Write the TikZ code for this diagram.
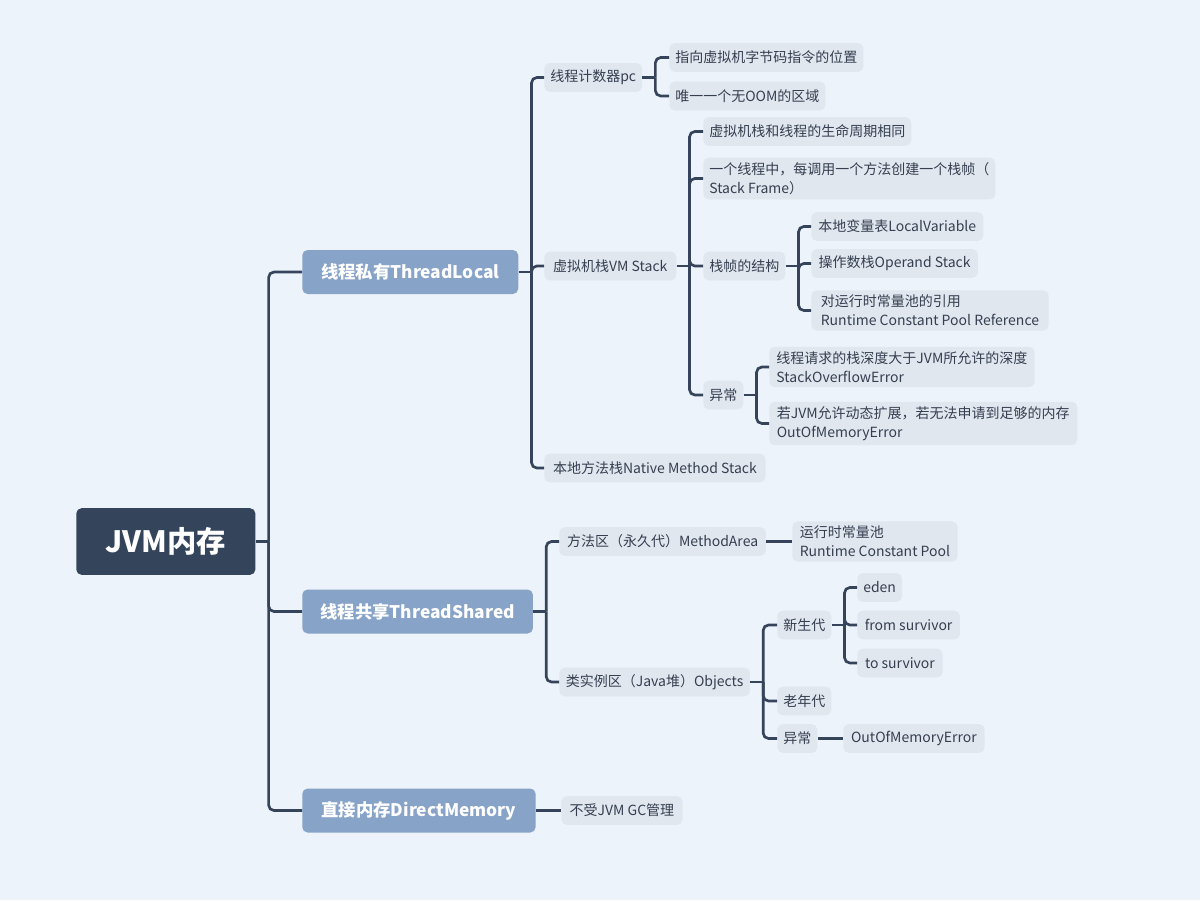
\documentclass[tikz,border=0pt]{standalone}
\usepackage{fontspec}
\setmainfont{Noto Sans CJK SC}
\usetikzlibrary{calc}
\definecolor{bgc}{HTML}{EDF3FA}
\definecolor{rootc}{HTML}{34445B}
\definecolor{mainc}{HTML}{87A3C8}
\definecolor{leafc}{HTML}{E1E7EF}
\definecolor{linec}{HTML}{35445A}
\definecolor{textc}{HTML}{353F50}
\tikzset{
  root/.style={fill=rootc, text=white, rounded corners=4pt, anchor=west,
    font=\fontsize{22}{26}\selectfont\bfseries, minimum height=50pt, inner xsep=22pt},
  topic/.style={fill=mainc, text=white, rounded corners=4pt, anchor=west,
    font=\fontsize{13}{16}\selectfont\bfseries, minimum height=33pt, inner xsep=13pt},
  leaf/.style={fill=leafc, text=textc, rounded corners=4pt, anchor=west, align=left,
    font=\fontsize{10.5}{14.2}\selectfont, minimum height=21.5pt, inner xsep=4.5pt, inner ysep=3.5pt},
  link/.style={draw=linec, line width=2pt, rounded corners=4pt},
}
\begin{document}
\begin{tikzpicture}[x=0.75pt,y=-0.75pt]
\fill[bgc] (0,0) rectangle (1200,900);
% 中心主题
\node[root,minimum width=132pt] (jvm) at (76,541.5) {JVM内存};
% 分支主题
\node[topic,minimum width=162pt] (tl) at (302,272) {线程私有ThreadLocal};
\node[topic,minimum width=173pt] (ts) at (302,611.5) {线程共享ThreadShared};
\node[topic,minimum width=175pt] (dm) at (302,810.5) {直接内存DirectMemory};
% 线程私有
\node[leaf] (pc) at (544,77.5) {线程计数器pc};
\node[leaf] (p1) at (669,57.5) {指向虚拟机字节码指令的位置};
\node[leaf] (p2) at (669,96) {唯一一个无OOM的区域};
\node[leaf,minimum width=99pt] (vm) at (544,266) {虚拟机栈VM Stack};
\node[leaf] (v1) at (703,131.5) {虚拟机栈和线程的生命周期相同};
\node[leaf] (v2) at (703,178.5) {一个线程中，每调用一个方法创建一个栈帧（\\Stack Frame）};
\node[leaf] (vf) at (703,266) {栈帧的结构};
\node[leaf,minimum width=129pt] (f1) at (811,226.5) {本地变量表LocalVariable};
\node[leaf,minimum width=125pt] (f2) at (811,263.5) {操作数栈Operand Stack};
\node[leaf,minimum width=178pt] (f3) at (811,310.5) {对运行时常量池的引用\\Runtime Constant Pool Reference};
\node[leaf] (ve) at (703,395) {异常};
\node[leaf,minimum width=199pt] (e1) at (769,367) {线程请求的栈深度大于JVM所允许的深度\\StackOverflowError};
\node[leaf,minimum width=231pt] (e2) at (769,423.5) {若JVM允许动态扩展，若无法申请到足够的内存\\OutOfMemoryError};
\node[leaf,minimum width=166pt] (nm) at (544,468) {本地方法栈Native Method Stack};
% 线程共享
\node[leaf,minimum width=155pt] (ma) at (559,541.5) {方法区（永久代）MethodArea};
\node[leaf,minimum width=124pt] (rc) at (792,541.5) {运行时常量池\\Runtime Constant Pool};
\node[leaf,minimum width=143pt] (ob) at (559,682) {类实例区（Java堆）Objects};
\node[leaf] (young) at (777,625) {新生代};
\node[leaf] (eden) at (857,587.5) {eden};
\node[leaf,minimum width=77pt] (from) at (857,625) {from survivor};
\node[leaf,minimum width=64pt] (to) at (857,663) {to survivor};
\node[leaf] (old) at (777,701) {老年代};
\node[leaf] (oe) at (777,738.5) {异常};
\node[leaf,minimum width=106pt] (oom) at (843,738.5) {OutOfMemoryError};
% 直接内存
\node[leaf,minimum width=91pt] (gc) at (561,810.5) {不受JVM GC管理};
% 连线
\foreach \p/\cs in {jvm/{tl,ts,dm}, tl/{pc,vm,nm}, pc/{p1,p2}, vm/{v1,v2,vf,ve},
    vf/{f1,f2,f3}, ve/{e1,e2}, ts/{ma,ob}, ob/{young,old,oe}, young/{eden,from,to}}{
  \coordinate (\p-j) at ($(\p.east)+(13,0)$);
  \draw[link] (\p.east) -- (\p-j);
  \foreach \c in \cs \draw[link] (\p-j) |- (\c.west);
}
\draw[link] (ma.east) -- (rc.west);
\draw[link] (oe.east) -- (oom.west);
\draw[link] (dm.east) -- (gc.west);
\end{tikzpicture}
\end{document}
